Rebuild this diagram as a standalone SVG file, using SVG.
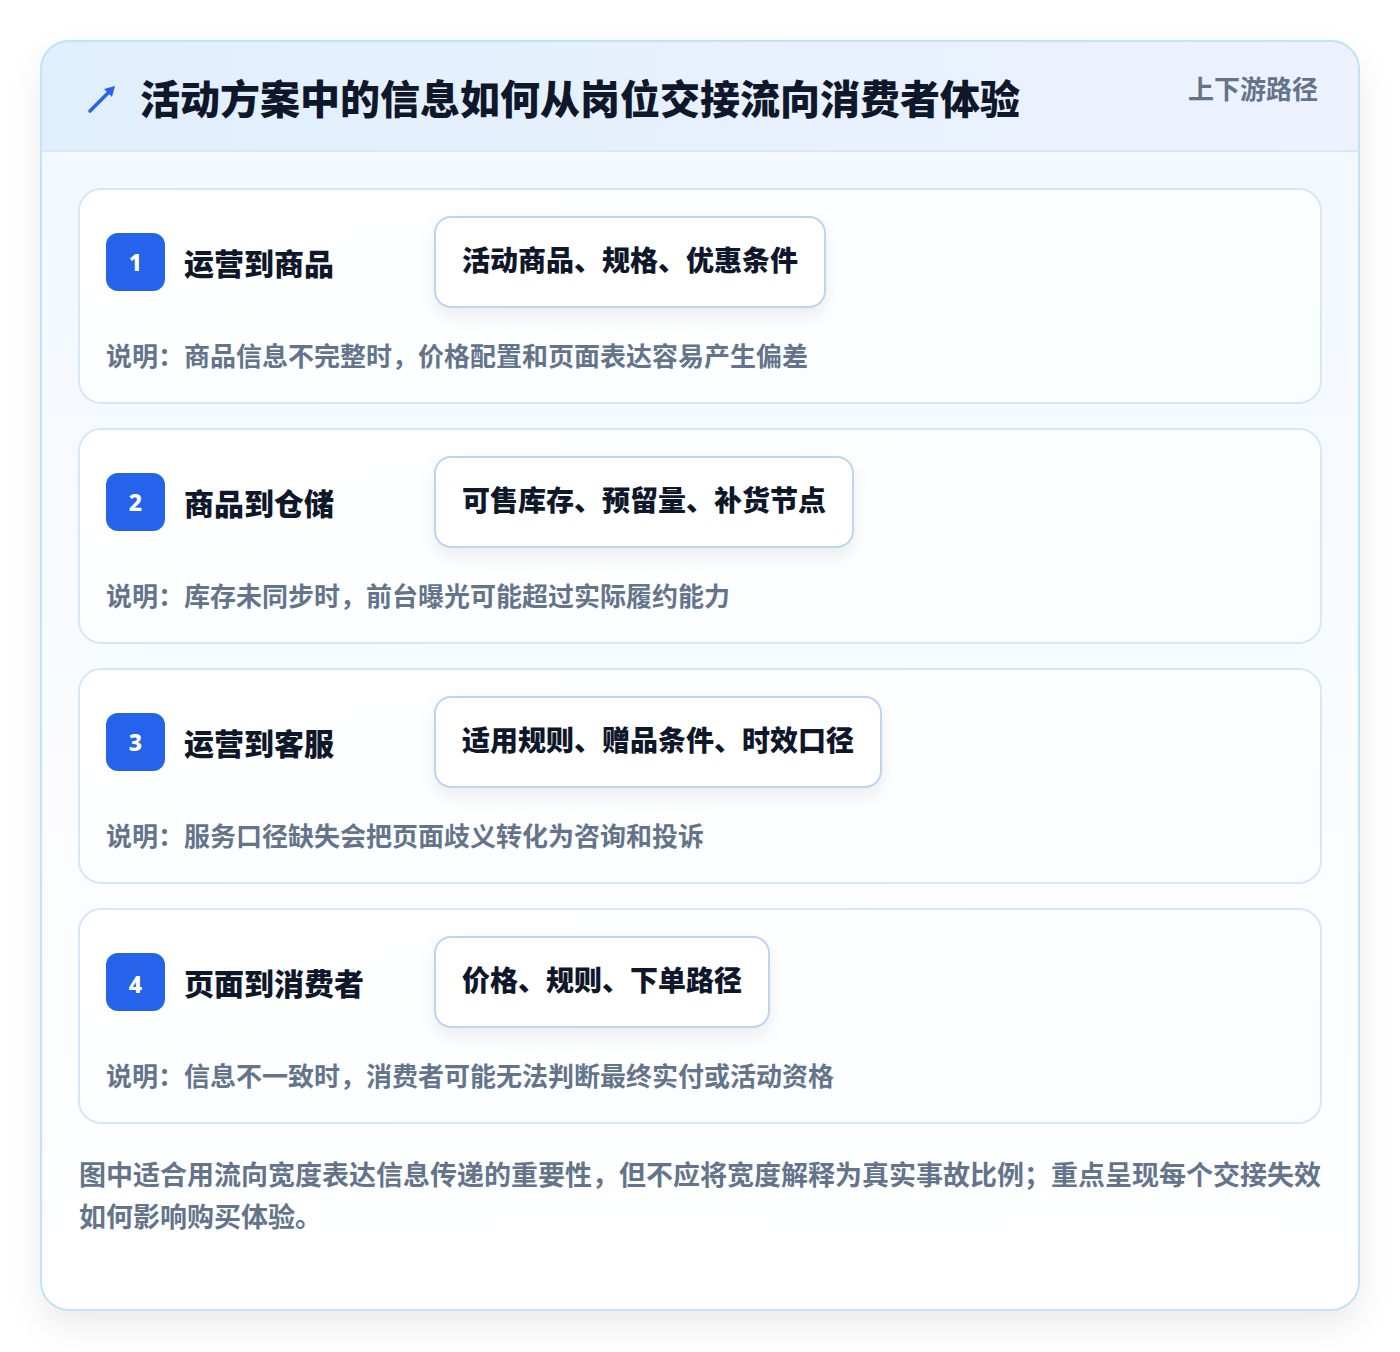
<svg xmlns="http://www.w3.org/2000/svg" width="1400" height="1352" viewBox="0 0 1400 1352">
<defs>
<style>
.zh{font-family:"Noto Sans CJK SC","Noto Sans",sans-serif;font-weight:700}
.title{font-size:40px;fill:#0f172a;font-weight:800}
.tag{font-size:26px;fill:#64748b}
.card{fill:url(#cardg);stroke:#d6e7f8;stroke-width:2}
.badge{fill:#2563eb}
.num{font-family:"Noto Sans","Liberation Sans",sans-serif;font-weight:800;font-size:23px;fill:#ffffff}
.ctitle{font-size:30px;fill:#0f172a;font-weight:800}
.pill{fill:#ffffff;stroke:#bcd5f3;stroke-width:2}
.ptext{font-size:28px;fill:#0f172a;font-weight:800}
.desc{font-size:26px;fill:#64748b}
.foot{font-size:27px;fill:#64748b}
</style>
<linearGradient id="headg" x1="0" y1="0" x2="1" y2="0">
<stop offset="0" stop-color="#e0effd"/>
<stop offset="1" stop-color="#eef2fe"/>
</linearGradient>
<linearGradient id="bodyg" x1="0" y1="0" x2="0" y2="1">
<stop offset="0" stop-color="#f2f8ff"/>
<stop offset="1" stop-color="#ffffff"/>
</linearGradient>
<linearGradient id="cardg" x1="0" y1="0" x2="1" y2="1">
<stop offset="0" stop-color="#ffffff"/>
<stop offset="1" stop-color="#fbfdff"/>
</linearGradient>
<filter id="outershadow" x="-10%" y="-10%" width="120%" height="120%">
<feDropShadow dx="0" dy="16" stdDeviation="16" flood-color="#0f172a" flood-opacity="0.08"/>
</filter>
<filter id="pillshadow" x="-20%" y="-30%" width="140%" height="180%">
<feDropShadow dx="0" dy="8" stdDeviation="8" flood-color="#0f172a" flood-opacity="0.07"/>
</filter>
<clipPath id="outerclip">
<rect x="41" y="41" width="1318" height="1269" rx="28"/>
</clipPath>
</defs>
<rect x="0" y="0" width="1400" height="1352" fill="#ffffff"/>
<g id="frame">
<rect x="41" y="41" width="1318" height="1269" rx="28" fill="url(#bodyg)" filter="url(#outershadow)"/>
<g clip-path="url(#outerclip)">
<rect x="41" y="41" width="1318" height="110" fill="url(#headg)"/>
<line x1="41" y1="151" x2="1359" y2="151" stroke="#d9e8f9" stroke-width="2"/>
</g>
<rect x="41" y="41" width="1318" height="1269" rx="28" fill="none" stroke="#bfe3f7" stroke-width="2"/>
</g>
<g id="header">
<path d="M90 111 L111 90" stroke="#2563eb" stroke-width="3.5" stroke-linecap="round" fill="none"/>
<path d="M115 86 L104 89 L112 97 Z" fill="#2563eb"/>
<text class="zh title" x="140" y="114">活动方案中的信息如何从岗位交接流向消费者体验</text>
<text class="zh tag" x="1318" y="99" text-anchor="end">上下游路径</text>
</g>
<g id="node-1">
<rect class="card" x="79" y="189" width="1242" height="214" rx="22"/>
<rect class="badge" x="106" y="233" width="59" height="58" rx="12"/>
<text class="num" x="135.5" y="271" text-anchor="middle">1</text>
<text class="zh ctitle" x="184" y="275">运营到商品</text>
<rect class="pill" x="435" y="217" width="390" height="90" rx="16" filter="url(#pillshadow)"/>
<text class="zh ptext" x="462" y="271">活动商品、规格、优惠条件</text>
<text class="zh desc" x="106" y="366">说明：商品信息不完整时，价格配置和页面表达容易产生偏差</text>
</g>
<g id="node-2">
<rect class="card" x="79" y="429" width="1242" height="214" rx="22"/>
<rect class="badge" x="106" y="473" width="59" height="58" rx="12"/>
<text class="num" x="135.5" y="511" text-anchor="middle">2</text>
<text class="zh ctitle" x="184" y="515">商品到仓储</text>
<rect class="pill" x="435" y="457" width="418" height="90" rx="16" filter="url(#pillshadow)"/>
<text class="zh ptext" x="462" y="511">可售库存、预留量、补货节点</text>
<text class="zh desc" x="106" y="606">说明：库存未同步时，前台曝光可能超过实际履约能力</text>
</g>
<g id="node-3">
<rect class="card" x="79" y="669" width="1242" height="214" rx="22"/>
<rect class="badge" x="106" y="713" width="59" height="58" rx="12"/>
<text class="num" x="135.5" y="751" text-anchor="middle">3</text>
<text class="zh ctitle" x="184" y="755">运营到客服</text>
<rect class="pill" x="435" y="697" width="446" height="90" rx="16" filter="url(#pillshadow)"/>
<text class="zh ptext" x="462" y="751">适用规则、赠品条件、时效口径</text>
<text class="zh desc" x="106" y="846">说明：服务口径缺失会把页面歧义转化为咨询和投诉</text>
</g>
<g id="node-4">
<rect class="card" x="79" y="909" width="1242" height="214" rx="22"/>
<rect class="badge" x="106" y="953" width="59" height="58" rx="12"/>
<text class="num" x="135.5" y="993" text-anchor="middle">4</text>
<text class="zh ctitle" x="184" y="995">页面到消费者</text>
<rect class="pill" x="435" y="937" width="334" height="90" rx="16" filter="url(#pillshadow)"/>
<text class="zh ptext" x="462" y="991">价格、规则、下单路径</text>
<text class="zh desc" x="106" y="1086">说明：信息不一致时，消费者可能无法判断最终实付或活动资格</text>
</g>
<g id="connectors"></g>
<g id="footer">
<text class="zh foot" x="79" y="1185">图中适合用流向宽度表达信息传递的重要性，但不应将宽度解释为真实事故比例；重点呈现每个交接失效</text>
<text class="zh foot" x="79" y="1227">如何影响购买体验。</text>
</g>
</svg>
